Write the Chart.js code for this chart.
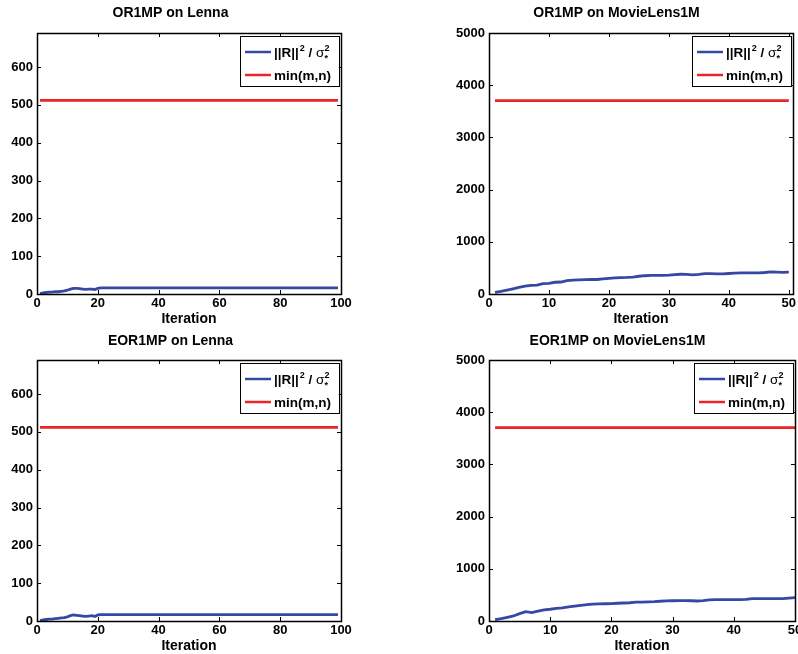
<!DOCTYPE html>
<html>
<head>
<meta charset="utf-8">
<script src="https://cdn.jsdelivr.net/npm/chart.js@4.4.0/dist/chart.umd.min.js"></script>
<style>
  html, body { margin: 0; padding: 0; background: #fff; overflow: hidden; width: 798px; height: 654px; }
  canvas { position: absolute; }
</style>
</head>
<body>
<canvas id="g1" width="400" height="327" style="left:0;top:0"></canvas>
<canvas id="g2" width="410" height="327" style="left:400px;top:0"></canvas>
<canvas id="g3" width="400" height="327" style="left:0;top:327px"></canvas>
<canvas id="g4" width="410" height="327" style="left:400px;top:327px"></canvas>
<script>
// ||R||^2 / sigma^2 per iteration (iteration = index + 1)
var or1mpLenna = [1, 3, 4, 5, 5, 6, 6, 7, 8, 10, 13, 15, 15, 14, 13, 12, 13, 13, 12, 15,
  16, 16, 16, 16, 16, 16, 16, 16, 16, 16, 16, 16, 16, 16, 16, 16, 16, 16, 16, 16,
  16, 16, 16, 16, 16, 16, 16, 16, 16, 16, 16, 16, 16, 16, 16, 16, 16, 16, 16, 16,
  16, 16, 16, 16, 16, 16, 16, 16, 16, 16, 16, 16, 16, 16, 16, 16, 16, 16, 16, 16,
  16, 16, 16, 16, 16, 16, 16, 16, 16, 16, 16, 16, 16, 16, 16, 16, 16, 16, 16];
var eor1mpLenna = [1, 3, 4, 5, 5, 6, 7, 8, 9, 11, 14, 16, 15, 14, 13, 12, 13, 14, 12, 16,
  17, 17, 17, 17, 17, 17, 17, 17, 17, 17, 17, 17, 17, 17, 17, 17, 17, 17, 17, 17,
  17, 17, 17, 17, 17, 17, 17, 17, 17, 17, 17, 17, 17, 17, 17, 17, 17, 17, 17, 17,
  17, 17, 17, 17, 17, 17, 17, 17, 17, 17, 17, 17, 17, 17, 17, 17, 17, 17, 17, 17,
  17, 17, 17, 17, 17, 17, 17, 17, 17, 17, 17, 17, 17, 17, 17, 17, 17, 17, 17];
var or1mpMovie = [30, 50, 75, 100, 125, 150, 165, 170, 200, 205, 225, 230, 255, 265, 272, 276, 278, 278, 290, 300,
  310, 315, 318, 325, 340, 350, 355, 357, 358, 362, 372, 378, 375, 368, 375, 390, 390, 385, 386, 393,
  400, 404, 404, 403, 405, 412, 422, 420, 415, 418];
var eor1mpMovie = [25, 45, 70, 96, 140, 180, 160, 190, 215, 225, 240, 250, 270, 287, 300, 315, 322, 328, 330, 333,
  340, 345, 350, 360, 362, 365, 370, 378, 385, 388, 390, 390, 388, 383, 390, 405, 410, 410, 410, 410,
  408, 415, 428, 428, 428, 428, 428, 428, 440, 447];

var minMNLenna = 512;
var minMNMovie = 3706;

var titles = ['OR1MP on Lenna', 'OR1MP on MovieLens1M', 'EOR1MP on Lenna', 'EOR1MP on MovieLens1M'];
var xLabel = 'Iteration';
var xTicksLenna = [0, 20, 40, 60, 80, 100];
var xTicksMovie = [0, 10, 20, 30, 40, 50];
var yTicksLenna = [0, 100, 200, 300, 400, 500, 600];
var yTicksMovie = [0, 1000, 2000, 3000, 4000, 5000];

var BLUE = 'rgb(52,72,164)';
var RED = 'rgb(236,36,38)';
var FONT = '"Liberation Sans", Arial, Helvetica, sans-serif';

// box around the axes with inward tick marks on all four sides
var framePlugin = {
  id: 'frame',
  afterDraw: function (chart) {
    var ctx = chart.ctx, a = chart.chartArea;
    var xs = chart.scales.x, ys = chart.scales.y;
    ctx.save();
    ctx.strokeStyle = '#000';
    ctx.lineWidth = 1;
    ctx.beginPath();
    xs.ticks.forEach(function (t) {
      var px = Math.round(xs.getPixelForValue(t.value)) + 0.5;
      ctx.moveTo(px, a.bottom); ctx.lineTo(px, a.bottom - 4);
      ctx.moveTo(px, a.top); ctx.lineTo(px, a.top + 4);
    });
    ys.ticks.forEach(function (t) {
      var py = Math.round(ys.getPixelForValue(t.value)) + 0.5;
      ctx.moveTo(a.left, py); ctx.lineTo(a.left + 4, py);
      ctx.moveTo(a.right, py); ctx.lineTo(a.right - 4, py);
    });
    ctx.stroke();
    ctx.lineWidth = 1.5;
    ctx.strokeRect(Math.round(a.left) + 0.5, Math.round(a.top) + 0.5,
      Math.round(a.right - a.left), Math.round(a.bottom - a.top));
    ctx.restore();
  }
};

// legend box in the upper right corner, with the super/subscripts
var legendPlugin = {
  id: 'boxLegend',
  afterDraw: function (chart) {
    var ctx = chart.ctx, a = chart.chartArea;
    var w = 99, h = 50;
    var x0 = Math.round(a.right) - 2 - w, y0 = Math.round(a.top) + 3;
    ctx.save();
    ctx.fillStyle = '#fff';
    ctx.fillRect(x0, y0, w, h);
    ctx.strokeStyle = '#000';
    ctx.lineWidth = 1;
    ctx.strokeRect(x0 + 0.5, y0 + 0.5, w, h);

    var r1 = y0 + 16, r2 = y0 + 39;
    ctx.lineWidth = 2.5;
    ctx.strokeStyle = BLUE;
    ctx.beginPath(); ctx.moveTo(x0 + 5, r1); ctx.lineTo(x0 + 31, r1); ctx.stroke();
    ctx.strokeStyle = RED;
    ctx.beginPath(); ctx.moveTo(x0 + 5, r2); ctx.lineTo(x0 + 31, r2); ctx.stroke();

    ctx.fillStyle = '#000';
    ctx.textBaseline = 'alphabetic';
    ctx.textAlign = 'left';
    var tx = x0 + 34, b1 = r1 + 5;
    ctx.font = 'bold 13.5px ' + FONT;
    ctx.fillText('||R||', tx, b1); tx += ctx.measureText('||R||').width;
    ctx.font = 'bold 9px ' + FONT;
    ctx.fillText('2', tx + 1, b1 - 6); tx += ctx.measureText('2').width + 1;
    ctx.font = 'bold 13.5px ' + FONT;
    ctx.fillText(' / ', tx, b1); tx += ctx.measureText(' / ').width;
    ctx.font = '13.5px ' + FONT;
    ctx.fillText('\u03c3', tx, b1); tx += ctx.measureText('\u03c3').width;
    ctx.font = 'bold 9px ' + FONT;
    ctx.fillText('2', tx, b1 - 6);
    ctx.fillText('*', tx, b1 + 4);

    ctx.font = 'bold 13.5px ' + FONT;
    ctx.fillText('min(m,n)', x0 + 34, r2 + 5);
    ctx.restore();
  }
};

function makeChart(id, title, values, minMN, xMax, xTicks, yMax, yTicks, pad, yWidth, topPad) {
  var blue = values.map(function (v, i) { return { x: i + 1, y: v }; });
  var red = values.map(function (v, i) { return { x: i + 1, y: minMN }; });
  var ctx = document.getElementById(id).getContext('2d');
  return new Chart(ctx, {
    type: 'line',
    data: {
      datasets: [
        { label: '||R||\u00b2 / \u03c3*\u00b2', data: blue, borderColor: BLUE, borderWidth: 2.8, pointRadius: 0, tension: 0 },
        { label: 'min(m,n)', data: red, borderColor: RED, borderWidth: 2.8, pointRadius: 0, tension: 0 }
      ]
    },
    options: {
      responsive: false,
      animation: false,
      layout: { padding: pad },
      plugins: {
        legend: { display: false },
        tooltip: { enabled: false },
        title: {
          display: true,
          text: title,
          color: '#000',
          font: { family: FONT, size: 14, weight: 'bold', lineHeight: '16px' },
          padding: { top: topPad, bottom: 33 - 16 - topPad }
        }
      },
      scales: {
        x: {
          type: 'linear',
          min: 0,
          max: xMax,
          afterBuildTicks: function (s) { s.ticks = xTicks.map(function (v) { return { value: v }; }); },
          afterFit: function (s) { s.height = 33; },
          grid: { display: false, drawTicks: false },
          border: { display: false },
          ticks: { color: '#000', padding: 2, maxRotation: 0, font: { family: FONT, size: 13, weight: 'bold' },
            callback: function (v) { return String(v); } },
          title: {
            display: true, text: xLabel, color: '#000',
            font: { family: FONT, size: 14, weight: 'bold', lineHeight: '16px' },
            padding: { top: 0, bottom: 0 }
          }
        },
        y: {
          type: 'linear',
          min: 0,
          max: yMax,
          afterBuildTicks: function (s) { s.ticks = yTicks.map(function (v) { return { value: v }; }); },
          afterFit: function (s) { s.width = yWidth; },
          grid: { display: false, drawTicks: false },
          border: { display: false },
          ticks: { color: '#000', padding: 4, font: { family: FONT, size: 13, weight: 'bold' },
            callback: function (v) { return String(v); } }
        }
      }
    },
    plugins: [framePlugin, legendPlugin]
  });
}

makeChart('g1', titles[0], or1mpLenna, minMNLenna, 100, xTicksLenna, 690, yTicksLenna,
  { left: 0, right: 59, top: 0, bottom: 0 }, 37, 5);
makeChart('g2', titles[1], or1mpMovie, minMNMovie, 50.7, xTicksMovie, 5000, yTicksMovie,
  { left: 40, right: 17, top: 0, bottom: 0 }, 49, 5);
makeChart('g3', titles[2], eor1mpLenna, minMNLenna, 100, xTicksLenna, 690, yTicksLenna,
  { left: 0, right: 59, top: 0, bottom: 0 }, 37, 6);
makeChart('g4', titles[3], eor1mpMovie, minMNMovie, 50, xTicksMovie, 5000, yTicksMovie,
  { left: 40, right: 15, top: 0, bottom: 0 }, 49, 6);
</script>
</body>
</html>
